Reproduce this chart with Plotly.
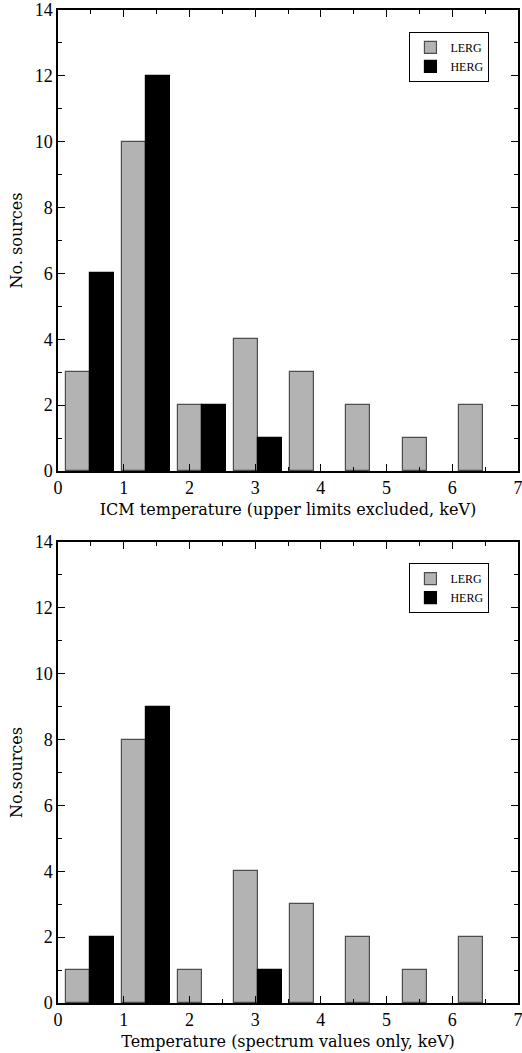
import plotly.graph_objects as go
from plotly.subplots import make_subplots

# bin positions (boundary between LERG and HERG bar in each bin, keV)
bins = [0.48, 1.335, 2.19, 3.045, 3.90, 4.755, 5.61, 6.465]

# top panel: ICM temperature (upper limits excluded)
lerg_top = [3, 10, 2, 4, 3, 2, 1, 2]
herg_top = [6, 12, 2, 1, 0, 0, 0, 0]

# bottom panel: temperature (spectrum values only)
lerg_bot = [1, 8, 1, 4, 3, 2, 1, 2]
herg_bot = [2, 9, 0, 1, 0, 0, 0, 0]

xticks = [0, 1, 2, 3, 4, 5, 6, 7]
yticks = [0, 2, 4, 6, 8, 10, 12, 14]

BW = 0.365
GRAY = "#b3b3b3"
TICKFONT = dict(family="Liberation Serif", size=18, color="black")
TITLEFONT = dict(family="DejaVu Serif", size=16, color="black")
LEGFONT = dict(family="Liberation Serif", size=12, color="black")

fig = make_subplots(rows=2, cols=1, vertical_spacing=0.0715)

def nz(vals):
    return [v if v else None for v in vals]

def add(row, lerg, herg, legend):
    fig.add_trace(go.Bar(x=bins, y=nz(lerg), width=BW, offset=-BW, name="LERG",
                         marker=dict(color=GRAY, line=dict(color="#4d4d4d", width=1.2)),
                         legend=legend), row=row, col=1)
    fig.add_trace(go.Bar(x=bins, y=nz(herg), width=BW, offset=0, name="HERG",
                         marker=dict(color="black", line=dict(color="black", width=1.2)),
                         legend=legend), row=row, col=1)

add(1, lerg_top, herg_top, "legend")
add(2, lerg_bot, herg_bot, "legend2")

for r, xt, yt in [(1, "ICM temperature (upper limits excluded, keV)", "No. sources"),
                  (2, "Temperature (spectrum values only, keV)", "No.sources")]:
    fig.update_xaxes(row=r, col=1, range=[0, 7], tickvals=xticks, ticks="inside", ticklen=7,
                     tickwidth=1, tickcolor="black", showline=True, linecolor="black", linewidth=1.5,
                     mirror="allticks", showgrid=False, zeroline=False, tickfont=TICKFONT,
                     automargin=False, ticklabeloverflow="allow",
                     minor=dict(ticks="inside", dtick=0.5, ticklen=4, tickcolor="black", tickwidth=1),
                     title=dict(text=xt, font=TITLEFONT, standoff=6))
    fig.update_yaxes(row=r, col=1, range=[0, 14], tickvals=yticks, ticks="inside", ticklen=7,
                     tickwidth=1, tickcolor="black", showline=True, linecolor="black", linewidth=1.5,
                     mirror="allticks", showgrid=False, zeroline=False, tickfont=TICKFONT,
                     automargin=False, ticklabeloverflow="allow",
                     minor=dict(ticks="inside", dtick=1, ticklen=4, tickcolor="black", tickwidth=1),
                     title=dict(text=yt, font=TITLEFONT, standoff=8))

fig.update_yaxes(domain=[0.5358, 1.0], row=1, col=1)
fig.update_yaxes(domain=[0.0, 0.4643], row=2, col=1)

legstyle = dict(bgcolor="white", bordercolor="black", borderwidth=1, font=LEGFONT,
                xanchor="left", yanchor="top", tracegroupgap=0, itemwidth=30)
fig.update_layout(
    width=522, height=1053,
    margin=dict(l=58, r=4, t=10, b=50, autoexpand=False),
    paper_bgcolor="white", plot_bgcolor="white",
    barmode="overlay", bargap=0,
    legend=dict(x=0.764, y=0.978, **legstyle),
    legend2=dict(x=0.764, y=0.443, **legstyle),
)

fig.write_html("out.html", config={"displayModeBar": False},
               post_script="document.body.style.margin='0';")
